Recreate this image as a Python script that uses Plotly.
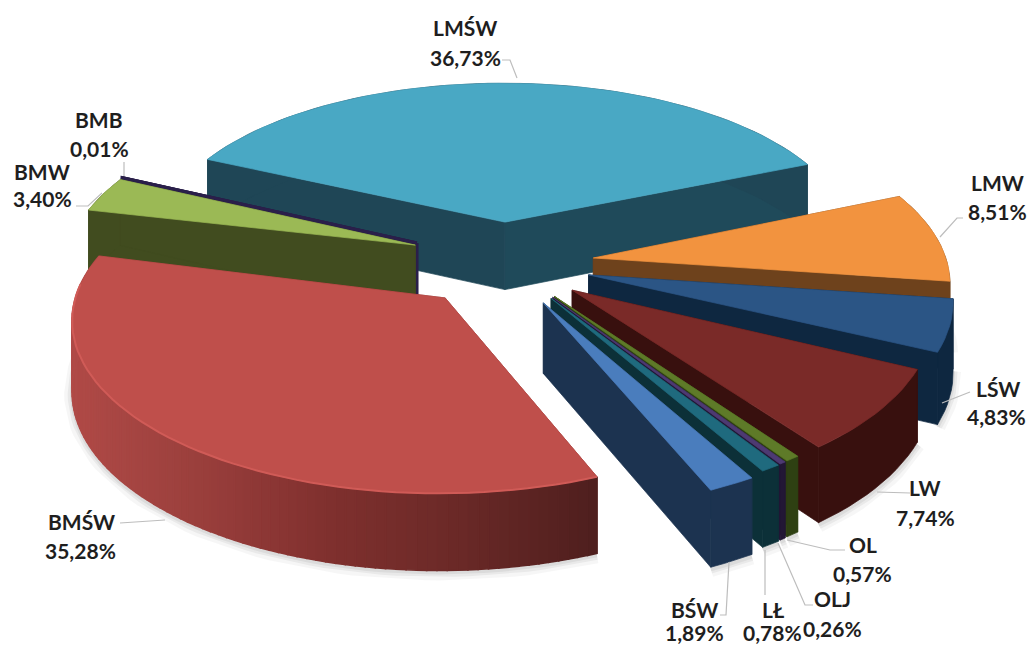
import math
import plotly.graph_objects as go

# ---- data ----
names = ["LMŚW", "LMW", "LŚW", "LW", "OL", "OLJ", "LŁ", "BŚW", "BMŚW", "BMW", "BMB"]
values = [36.73, 8.51, 4.83, 7.74, 0.57, 0.26, 0.78, 1.89, 35.28, 3.40, 0.01]
pct_labels = ["36,73%", "8,51%", "4,83%", "7,74%", "0,57%", "0,26%", "0,78%", "1,89%", "35,28%", "3,40%", "0,01%"]

# ---- styling ----
top_colors = ["#49A8C4", "#F2933F", "#2B5585", "#7A2A28", "#5E7A28", "#4D3A72", "#1F6A7E", "#4A7DBD", "#BF4F4B", "#9BB955", "#2A1F4A"]
wall_colors = ["#1F4656", "#6E421C", "#0E2740", "#38100E", "#2E4012", "#221735", "#0C3038", "#1C3350", "#8A3432", "#414C1F", "#2A1F4A"]
explode_x = [0.044, 0.296, 0.279, 0.230, 0.180, 0.175, 0.170, 0.148, -0.125, -0.216, -0.212]
explode_y = [0.245, 0.024, -0.076, -0.164, -0.200, -0.205, -0.210, -0.236, -0.208, 0.102, 0.115]
radius_x = [1.01, 1.01, 1.02, 1.0, 1.0, 1.0, 1.0, 1.0, 1.03, 1.0, 1.0]
radius_y = [0.99, 1.0, 1.0, 1.0, 1.0, 1.0, 1.0, 1.0, 0.96, 1.0, 1.0]
angle_shift = [0.0, 0.0, 0.0, 0.0, 0.5, 0.5, 0.5, 1.0, 2.0, 0.0, 0.0]
edge_width = [0.7, 0.7, 0.7, 0.7, 0.7, 0.7, 0.7, 0.7, 0.7, 0.7, 3.0]
START = -65.0
CX, CY, A, B, KX, KY, H, KD = 490.0, 262.0, 350.0, 168.0, 0.12, 0.13, 69.0, 0.09
# back-to-front drawing order
draw_order = [0, 10, 9, 1, 2, 3, 4, 5, 6, 7, 8]

label_pos = {
    "LMŚW": (465, 27, 465, 57), "LMW": (997, 182, 997, 211), "LŚW": (998, 388, 996, 416),
    "LW": (925, 487, 925, 517), "OL": (863, 544, 862, 573), "OLJ": (832, 598, 832, 628),
    "LŁ": (773, 609, 772, 632), "BŚW": (694, 609, 694, 632), "BMŚW": (81, 521, 80, 550),
    "BMW": (42, 171, 42, 198), "BMB": (99, 119, 99, 148),
}
leaders = [
    "M502,60 L510,60 L517,78", "M124,162 L124,176", "M76,206 L88,206 L102,193",
    "M963,218 L957,218 L940,237", "M970,392 L942,403", "M910,493 L877,492",
    "M845,550 L830,550 L787,540", "M813,605 L805,605 L778,543", "M765,595 L765,550",
    "M720,615 L726,615 L729,562", "M120,523 L165,520",
]


def project(X, Y, drop=0.0):
    px = CX + A * X / (1 + KX * Y)
    py = CY - B * Y / (1 + KY * Y) + drop * H / (1 + KD * Y)
    return px, py


def mix(c1, c2, f):
    a = [int(c1[i:i + 2], 16) for i in (1, 3, 5)]
    b = [int(c2[i:i + 2], 16) for i in (1, 3, 5)]
    return "#%02X%02X%02X" % tuple(round(p + (q - p) * f) for p, q in zip(a, b))


def poly(fig, pts, color, lw=0.7):
    xs = [p[0] for p in pts] + [pts[0][0]]
    ys = [p[1] for p in pts] + [pts[0][1]]
    fig.add_trace(go.Scatter(x=xs, y=ys, mode="lines", fill="toself", fillcolor=color,
                             line=dict(color=color, width=lw), hoverinfo="skip", showlegend=False))


def line(fig, pts, color, width):
    fig.add_trace(go.Scatter(x=[p[0] for p in pts], y=[p[1] for p in pts], mode="lines",
                             line=dict(color=color, width=width, shape="linear"),
                             hoverinfo="skip", showlegend=False))


def arc_angles(a0, a1, n):
    return [math.radians(a0 + (a1 - a0) * i / n) for i in range(n + 1)]


fig = go.Figure()
total = sum(values)
starts = []
cum = START
for v in values:
    starts.append(cum)
    cum += v / total * 360.0

wall_ramp = {
    8: ["#B04A47", "#9A3F3C", "#7F302E", "#6A2927", "#4F1F1E"],
}

for i in draw_order:
    a0 = starts[i] + angle_shift[i]
    a1 = a0 + values[i] / total * 360.0
    ox, oy, rx, ry = explode_x[i], explode_y[i], radius_x[i], radius_y[i]
    n = max(2, int((a1 - a0) / 2.0))
    angs = arc_angles(a0, a1, n)
    plane = [(ox + rx * math.sin(t), oy + ry * math.cos(t)) for t in angs]

    top_arc = [project(x, y) for x, y in plane]
    bot_arc = [project(x, y, 1) for x, y in plane]
    apex_t = project(ox, oy)
    apex_b = project(ox, oy, 1)
    lw = edge_width[i]

    # soft shadow below the front walls
    front_arc = [p for p, q in zip(bot_arc, plane) if q[1] < oy + 0.1]
    if len(front_arc) > 1:
        for w, op in ((16, 0.035), (9, 0.05), (4, 0.06)):
            line(fig, [(x, y + 2) for x, y in front_arc], f"rgba(0,0,0,{op})", w)

    # radial cut walls
    poly(fig, [apex_t, top_arc[0], bot_arc[0], apex_b], wall_colors[i], lw)
    poly(fig, [apex_t, top_arc[-1], bot_arc[-1], apex_b],
         mix(wall_colors[i], "#1E5568", 0.25) if i == 0 else wall_colors[i], lw)

    # outer wall; the largest front slice is shaded strip by strip
    if i == 8:
        ramp = wall_ramp[8]
        fine = arc_angles(a0, a1, 90)
        fp = [(ox + rx * math.sin(t), oy + ry * math.cos(t)) for t in fine]
        ft, fb = [project(x, y) for x, y in fp], [project(x, y, 1) for x, y in fp]
        xl, xr = min(p[0] for p in ft), max(p[0] for p in ft)
        for k in range(len(fp) - 1):
            f = ((ft[k][0] - xl) / (xr - xl)) * (len(ramp) - 1)
            j = min(int(f), len(ramp) - 2)
            poly(fig, [ft[k], ft[k + 1], fb[k + 1], fb[k]], mix(ramp[j], ramp[j + 1], f - j), 1.6)
    else:
        poly(fig, top_arc + bot_arc[::-1], wall_colors[i], lw)

    # top face
    poly(fig, [apex_t] + top_arc, top_colors[i], lw)

    # rim highlight on the largest front slice
    if i == 8:
        rim = [p for p, q in zip(top_arc, plane) if q[1] < oy + 0.1]
        line(fig, rim, "#D05B57", 2.0)

for path in leaders:
    fig.add_shape(type="path", path=path, xref="x", yref="y", line=dict(color="#BDBDBD", width=1.2))

for nm, pct in zip(names, pct_labels):
    x1, y1, x2, y2 = label_pos[nm]
    for tx, ty, text in ((x1, y1, nm), (x2, y2, pct)):
        fig.add_annotation(x=tx, y=ty, text=f"<b>{text}</b>", showarrow=False, xanchor="center",
                           yanchor="middle", font=dict(family="Lato", size=21, color="#1E1E1E"))

fig.update_layout(
    width=1031, height=646, margin=dict(l=0, r=0, t=0, b=0), paper_bgcolor="white", plot_bgcolor="white",
    xaxis=dict(range=[0, 1031], visible=False, fixedrange=True),
    yaxis=dict(range=[646, 0], visible=False, fixedrange=True),
    showlegend=False,
)
fig.write_html("out.html", config={"displayModeBar": False},
               post_script="document.body.style.margin='0';document.body.style.overflow='hidden';")
